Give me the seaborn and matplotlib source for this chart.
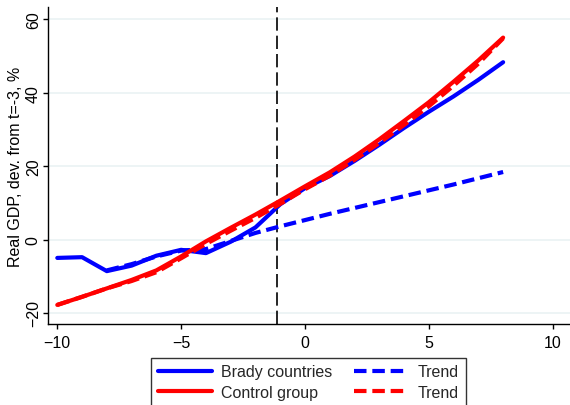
"""Real GDP around Brady deals: treated vs control, with trends."""
import matplotlib.pyplot as plt
import numpy as np
import seaborn as sns

# event time
t_all = np.arange(-10, 9)
t_trend_blue = np.arange(-8, 9)

brady = [-5.0, -4.8, -8.6, -7.1, -4.4, -2.8, -3.7, -0.6, 3.3, 9.6,
         14.0, 17.3, 21.4, 25.8, 30.4, 34.8, 39.0, 43.5, 48.3]
brady_trend = [-8.4, -6.7, -4.6, -3.0, -2.6, -0.4, 1.8, 3.6,
               5.3, 7.0, 8.6, 10.2, 11.8, 13.4, 15.0, 16.7, 18.4]
control = [-17.8, -15.6, -13.3, -11.0, -8.4, -4.6, -0.5, 3.2, 6.8, 10.6,
           14.5, 18.3, 22.6, 27.3, 32.3, 37.4, 43.0, 48.8, 55.0]
control_trend = [-17.8, -15.6, -13.3, -11.3, -8.9, -5.1, -1.2, 2.4, 5.9, 9.7,
                 13.7, 17.4, 21.7, 26.3, 31.2, 36.3, 41.9, 47.9, 54.8]

event_line = -1.14
BLUE = "#0000ff"
RED = "#ff0000"

sns.set_theme(style="white")
plt.rcParams["font.family"] = ["Liberation Sans", "DejaVu Sans"]

fig = plt.figure(figsize=(5.70, 4.06), dpi=100)
ax = fig.add_axes([0.084, 0.1995, 0.916, 0.7805])

lw = 3.0
sns.lineplot(x=t_all, y=control_trend, ax=ax, color=RED, lw=lw,
             linestyle=(0, (3, 1.4)), label="Trend")
sns.lineplot(x=t_all, y=control, ax=ax, color=RED, lw=lw, label="Control group")
sns.lineplot(x=t_trend_blue, y=brady_trend, ax=ax, color=BLUE, lw=lw,
             linestyle=(0, (3, 1.4)), label="Trend")
sns.lineplot(x=t_all, y=brady, ax=ax, color=BLUE, lw=lw, label="Brady countries")

# draw blue below red like the original
for line in ax.lines:
    if line.get_color() in (BLUE, "#0000ff"):
        line.set_zorder(2)
    else:
        line.set_zorder(3)

ax.axvline(event_line, color="black", lw=1.2, linestyle=(0, (8, 3)), zorder=1)

ax.set_xlim(-10.38, 10.7)
ax.set_ylim(-23, 63.3)
ax.set_xticks([-10, -5, 0, 5, 10])
ax.set_yticks([-20, 0, 20, 40, 60])
ax.yaxis.grid(True, color="#eaf2f3", lw=1.2)
ax.set_axisbelow(True)
for side in ["top", "right"]:
    ax.spines[side].set_visible(False)
for side in ["left", "bottom"]:
    ax.spines[side].set_color("black")
    ax.spines[side].set_linewidth(1.0)
ax.tick_params(axis="both", which="both", direction="out", length=3.6, width=1,
               color="black", labelsize=11.5, labelcolor="black", bottom=True, left=True)
ax.tick_params(axis="y", pad=1.5)
ax.tick_params(axis="x", pad=4)
for lab in ax.get_yticklabels():
    lab.set_rotation(90)
    lab.set_va("center")
ax.set_xlabel("")
ax.set_ylabel("Real GDP, dev. from t=-3, %", fontsize=11.5, color="black", labelpad=2)

ax.get_legend().remove()
h, l = ax.get_legend_handles_labels()
hd = dict(zip(["ct", "c", "bt", "b"], h))
leg = fig.legend([hd["b"], hd["c"], hd["bt"], hd["ct"]],
                 ["Brady countries", "Control group", "Trend", "Trend"],
                 ncol=2, loc="upper center", bbox_to_anchor=(0.541, 0.116),
                 borderaxespad=0, fontsize=11.5, frameon=True, fancybox=False,
                 edgecolor="black", handlelength=3.4, handletextpad=0.6,
                 columnspacing=1.35, labelspacing=0.35, borderpad=0.4)
leg.get_frame().set_linewidth(1.0)

fig.savefig("out.png", dpi=100)
